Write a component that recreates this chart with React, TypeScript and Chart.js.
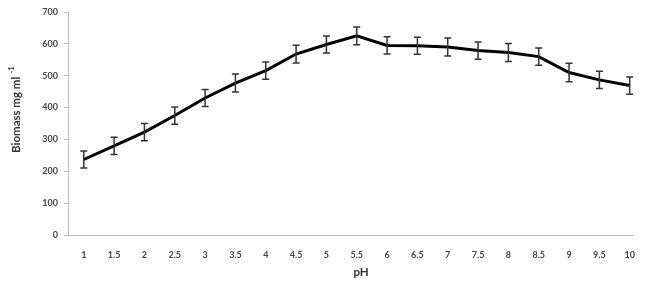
import React, { useEffect, useRef } from "react";
import { Chart, registerables } from "chart.js";

Chart.register(...registerables);

const PH = [1, 1.5, 2, 2.5, 3, 3.5, 4, 4.5, 5, 5.5, 6, 6.5, 7, 7.5, 8, 8.5, 9, 9.5, 10];
const BIOMASS = [237, 280, 323, 375, 430, 477, 516, 568, 598, 625, 595, 594, 590, 579, 573, 560, 510, 487, 469];
const ERRORS = [27, 27, 27, 27, 27, 28, 27, 28, 27, 28, 27, 27, 28, 27, 28, 27, 29, 27, 27];
const Y_TITLE = "Biomass mg ml";
const Y_TITLE_SUP = "-1";
const X_TITLE = "pH";

const errorBars = {
  id: "errorBars",
  afterDatasetsDraw(chart: any) {
    const ctx = chart.ctx;
    const xs = chart.scales.x;
    const ys = chart.scales.y;
    ctx.save();
    ctx.strokeStyle = "#333";
    ctx.lineWidth = 1.5;
    PH.forEach((p, i) => {
      const x = xs.getPixelForValue(p);
      const yt = ys.getPixelForValue(BIOMASS[i] + ERRORS[i]);
      const yb = ys.getPixelForValue(BIOMASS[i] - ERRORS[i]);
      ctx.beginPath();
      ctx.moveTo(x, yt);
      ctx.lineTo(x, yb);
      ctx.moveTo(x - 3.5, yt);
      ctx.lineTo(x + 3.5, yt);
      ctx.moveTo(x - 3.5, yb);
      ctx.lineTo(x + 3.5, yb);
      ctx.stroke();
    });
    ctx.restore();
  },
};

const titles = {
  id: "titles",
  afterDraw(chart: any) {
    const ctx = chart.ctx;
    ctx.save();
    ctx.fillStyle = "#333";
    ctx.translate(16, 153);
    ctx.rotate(-Math.PI / 2);
    ctx.font = "bold 11.5px Lato";
    ctx.textAlign = "left";
    ctx.textBaseline = "middle";
    ctx.fillText(Y_TITLE, 0, 0);
    const w = ctx.measureText(Y_TITLE + " ").width;
    ctx.font = "bold 8px Lato";
    ctx.fillText(Y_TITLE_SUP, w, -5);
    ctx.restore();
    ctx.save();
    ctx.fillStyle = "#333";
    ctx.font = "bold 11.5px Lato";
    ctx.textAlign = "center";
    ctx.textBaseline = "middle";
    ctx.fillText(X_TITLE, 361, 272);
    ctx.restore();
  },
};

export default function App() {
  const ref = useRef<HTMLCanvasElement>(null);
  useEffect(() => {
    document.body.style.margin = "0";
    const chart = new Chart(ref.current!, {
      type: "line",
      data: {
        datasets: [
          {
            data: PH.map((p, i) => ({ x: p, y: BIOMASS[i] })),
            borderColor: "#000",
            borderWidth: 3,
            pointRadius: 0,
            tension: 0,
            fill: false,
          },
        ],
      },
      options: {
        animation: false,
        responsive: false,
        layout: { padding: { top: 12, right: 10, left: 0, bottom: 0 } },
        plugins: { legend: { display: false }, tooltip: { enabled: false } },
        scales: {
          x: {
            type: "linear",
            min: 0.74,
            max: 10.07,
            afterBuildTicks: (s: any) => {
              s.ticks = PH.map((v) => ({ value: v }));
            },
            afterFit: (s: any) => {
              s.height = 48;
            },
            grid: { display: false, drawTicks: false },
            border: { display: true, color: "#bbb", width: 1 },
            ticks: {
              autoSkip: false,
              maxRotation: 0,
              padding: 15,
              color: "#444",
              font: { family: "Lato", size: 9, weight: "bold" },
              callback: (v: any) => String(v),
            },
          },
          y: {
            min: 0,
            max: 700,
            afterFit: (s: any) => {
              s.width = 68;
            },
            grid: { drawOnChartArea: false, drawTicks: true, tickLength: 4, color: "#bbb" },
            border: { display: true, color: "#bbb", width: 1 },
            ticks: {
              stepSize: 100,
              padding: 6,
              color: "#444",
              font: { family: "Lato", size: 9, weight: "bold" },
            },
          },
        },
      },
      plugins: [errorBars, titles],
    });
    return () => chart.destroy();
  }, []);
  return (
    <div style={{ width: 650, height: 283 }}>
      <canvas ref={ref} width={650} height={283} />
    </div>
  );
}
